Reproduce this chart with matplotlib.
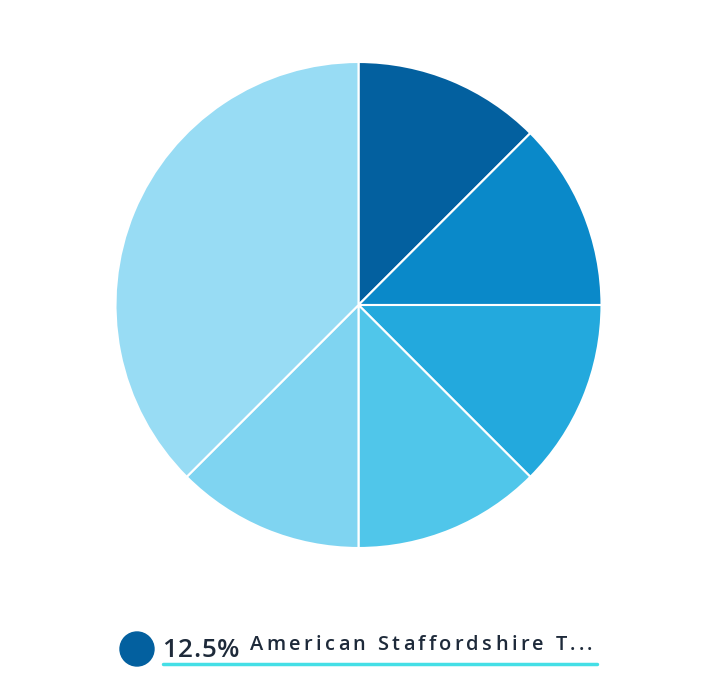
import matplotlib
matplotlib.use("Agg")
import matplotlib.pyplot as plt
from matplotlib.patches import Circle

# slice data, clockwise from 12 o'clock
shares = [12.5, 12.5, 12.5, 12.5, 12.5, 37.5]
slice_colors = ["#03609f", "#0a89c9", "#23a9dd", "#50c6ea", "#7fd4f1", "#98dcf4"]
legend_pct = "12.5%"
legend_label = "American Staffordshire T..."

W, H = 716, 681
fig = plt.figure(figsize=(W / 100, H / 100), dpi=100)
fig.patch.set_facecolor("white")

cx, cy, r = 358.5, 305, 243
ax = fig.add_axes([(cx - r) / W, (H - cy - r) / H, 2 * r / W, 2 * r / H])
ax.pie(shares, colors=slice_colors, startangle=90, counterclock=False,
       wedgeprops={"edgecolor": "white", "linewidth": 1.5}, radius=1)
ax.set_xlim(-1, 1)
ax.set_ylim(-1, 1)
ax.set_aspect("equal")
ax.axis("off")

# overlay in pixel coords for the legend
ov = fig.add_axes([0, 0, 1, 1])
ov.set_xlim(0, W)
ov.set_ylim(H, 0)
ov.axis("off")
ov.add_patch(Circle((137, 649), 17, color=slice_colors[0]))
ov.plot([163, 597], [664, 664], color="#44dfe6", lw=2.5, solid_capstyle="round")

fig.canvas.draw()
renderer = fig.canvas.get_renderer()


def spaced_text(x, y, s, size_px, spacing, **kw):
    for ch in s:
        t = ov.text(x, y, ch, fontsize=size_px * 0.72, va="baseline", ha="left", **kw)
        if ch == " ":
            w = size_px * 0.26
        else:
            w = t.get_window_extent(renderer).width
        x += w + spacing
    return x


spaced_text(162, 657, legend_pct, 26, 0.8, color="#1e2a3a", family="Open Sans", weight="semibold")
spaced_text(250, 650, legend_label, 20, 3.3, color="#1e2a3a", family="Open Sans", weight="semibold")

fig.savefig("out.png", dpi=100, facecolor="white")
